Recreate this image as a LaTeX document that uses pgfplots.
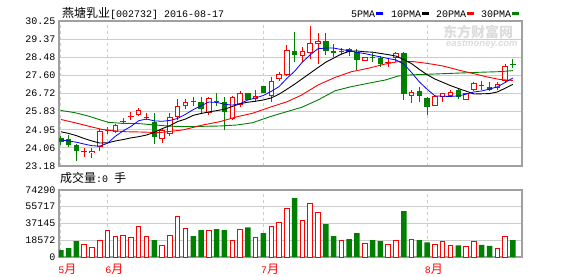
\documentclass[border=0pt]{standalone}
\usepackage{pgfplots}
\pgfplotsset{compat=1.18}
\usepackage{pgfplotstable}
\usepackage{fontspec}
\setmainfont{Liberation Sans}
\setmonofont{Liberation Mono}
\newfontfamily\cjk{Noto Sans CJK SC}
\newcommand\mono{\ttfamily\fontsize{10}{12}\selectfont}
\newcommand\zh{\cjk\fontsize{12}{14}\selectfont}
\definecolor{kred}{RGB}{255,0,0}
\definecolor{kgreen}{RGB}{0,128,0}
\definecolor{kblue}{RGB}{0,0,255}
\definecolor{bordc}{RGB}{160,160,160}
\definecolor{gridc}{RGB}{204,204,204}
\definecolor{wm}{RGB}{220,220,220}

% i lo hi l h  (up candles, hollow red)
\pgfplotstableread{
i lo hi l h
4 23.79 23.93 23.58 24.04
5 24.09 24.89 23.93 24.98
7 24.82 25.18 24.80 25.22
10 25.67 25.90 25.60 26.00
13 24.51 24.92 24.32 25.02
14 24.74 25.58 24.66 25.78
15 25.58 26.10 25.42 26.43
16 26.10 26.30 25.94 26.43
19 25.78 26.48 25.67 26.56
22 25.47 26.53 25.42 26.59
23 26.15 26.72 26.04 26.84
25 26.46 26.59 26.32 26.89
27 26.59 27.32 26.32 27.53
28 27.44 27.67 27.34 27.78
29 27.60 28.84 27.57 29.07
31 28.56 28.80 28.27 29.00
32 28.70 29.16 28.38 30.01
33 29.11 29.29 28.14 29.65
39 28.30 28.48 28.28 28.50
43 28.45 28.69 28.25 28.75
45 26.59 26.80 26.24 26.89
48 26.12 26.59 26.10 26.62
49 26.53 26.72 26.32 26.75
50 26.59 26.77 26.56 26.89
52 26.40 26.72 26.40 26.75
53 26.89 27.24 26.85 27.30
56 26.97 27.18 26.89 27.28
57 27.34 28.06 27.24 28.15
}\hollow
% red doji
\pgfplotstableread{
i lo hi l h
3 23.86 23.91 23.63 24.04
6 24.90 24.95 24.74 25.10
8 25.31 25.36 25.21 25.51
9 25.57 25.62 25.42 25.80
11 25.50 25.55 25.40 25.78
36 28.73 28.78 28.59 28.92
42 28.20 28.25 28.02 28.38
}\reddoji
% down candles, filled green
\pgfplotstableread{
i lo hi l h
0 24.36 24.53 24.20 24.64
1 24.22 24.48 24.09 24.71
2 23.93 24.22 23.44 24.24
12 24.61 25.31 24.24 25.78
17 26.32 26.37 26.10 26.53
18 25.94 26.30 25.78 26.53
20 26.29 26.34 26.10 26.72
21 25.83 26.30 24.94 26.56
24 26.40 26.72 26.38 26.74
26 26.75 27.08 26.73 27.10
30 28.59 28.79 28.27 29.71
34 28.80 29.29 28.59 29.65
35 28.70 28.80 28.48 29.13
37 28.75 28.88 28.55 28.92
38 28.35 28.72 27.86 28.90
40 28.46 28.51 28.27 28.68
41 28.15 28.46 28.00 28.55
44 26.69 28.68 26.42 28.76
46 26.59 26.85 26.32 27.05
47 26.07 26.48 25.67 26.53
51 26.56 26.89 26.46 26.92
54 27.07 27.12 26.89 27.32
55 26.89 27.05 26.82 27.26
58 28.12 28.17 27.94 28.38
}\down

\pgfplotsset{
  kaxis/.style={
    scale only axis, width=463pt,
    xmin=-0.23, xmax=59.17,
    axis line style={draw=bordc, line width=1.3pt},
    major tick length=0pt,
    xtick={0,6,26,47},
    xmajorgrids, ymajorgrids,
    major x grid style={draw=gridc, line width=0.9pt, dash pattern=on 3pt off 3pt},
    major y grid style={draw=gridc, line width=0.9pt},
    yticklabel style={font=\mono, text=black},
    scaled y ticks=false,
  },
  errplot/.style 2 args={draw=none, mark=none,
    error bars/.cd, y dir=plus, y explicit, error mark=none,
    error bar style={draw=#1, line width=#2, line cap=butt}},
}

\begin{document}
\begin{tikzpicture}
\useasboundingbox (0pt,0pt) rectangle (578pt,276pt);

% watermark
\node[anchor=base west, inner sep=0pt, text=wm] at (443pt,238pt) {\cjk\bfseries\fontsize{14}{14}\selectfont 东方财富网};
\node[anchor=base west, inner sep=0pt, text=wm] at (446pt,229pt) {\bfseries\itshape\fontsize{9.5}{10}\selectfont eastmoney.com};

% title and legend
\node[anchor=base west, inner sep=0pt] at (62pt,258pt) {\zh 燕塘乳业\mono[002732] 2016-08-17};
\node[anchor=base west, inner sep=0pt] at (351pt,258.5pt) {\mono 5PMA\hspace{1pt}\textcolor{kblue}{\rule[2pt]{7pt}{3pt}}};
\node[anchor=base west, inner sep=0pt] at (391pt,258.5pt) {\mono 10PMA\hspace{1pt}\textcolor{black}{\rule[2pt]{7pt}{3pt}}};
\node[anchor=base west, inner sep=0pt] at (436pt,258.5pt) {\mono 20PMA\hspace{1pt}\textcolor{kred}{\rule[2pt]{7pt}{3pt}}};
\node[anchor=base west, inner sep=0pt] at (481pt,258.5pt) {\mono 30PMA\hspace{1pt}\textcolor{kgreen}{\rule[2pt]{7pt}{3pt}}};
\node[anchor=base west, inner sep=0pt] at (60pt,94pt) {\zh 成交量\mono:0 \zh 手};

% ---------- price panel ----------
\begin{axis}[kaxis, at={(59pt,110pt)}, anchor=south west, height=145pt,
  ymin=23.18, ymax=30.25,
  ytick={23.18,24.06375,24.9475,25.83125,26.715,27.59875,28.4825,29.36625,30.25},
  yticklabels={23.18,24.06,24.95,25.83,26.72,27.60,28.48,29.37,30.25},
  xticklabels={}]
% wicks
\addplot[errplot={kred}{1pt}] table[x=i, y=l, y error plus expr=\thisrow{h}-\thisrow{l}] {\hollow};
\addplot[errplot={kred}{1pt}] table[x=i, y=l, y error plus expr=\thisrow{h}-\thisrow{l}] {\reddoji};
\addplot[errplot={kgreen}{1pt}] table[x=i, y=l, y error plus expr=\thisrow{h}-\thisrow{l}] {\down};
% bodies
\addplot[errplot={kred}{5.5pt}] table[x=i, y=lo, y error plus expr=\thisrow{hi}-\thisrow{lo}] {\hollow};
\addplot[draw=none, mark=none, error bars/.cd, y dir=plus, y explicit, error mark=none,
  error bar style={draw=white, line width=3.5pt, line cap=butt, shorten <=1pt, shorten >=1pt}]
  table[x=i, y=lo, y error plus expr=\thisrow{hi}-\thisrow{lo}] {\hollow};
\addplot[errplot={kred}{5.5pt}] table[x=i, y=lo, y error plus expr=\thisrow{hi}-\thisrow{lo}] {\reddoji};
\addplot[errplot={kgreen}{5.5pt}] table[x=i, y=lo, y error plus expr=\thisrow{hi}-\thisrow{lo}] {\down};
% 30PMA
\addplot[kgreen, line width=0.9pt, mark=none] coordinates {
(0,25.89) (1.8,25.78) (3.5,25.62) (4.8,25.46) (6.1,25.31) (7.8,25.26) (9.9,25.25)
(12.1,25.18) (14.0,25.12) (16.1,25.10) (20.4,25.13) (22.6,25.18) (24.6,25.29)
(26.8,25.58) (29.0,25.83) (30.9,26.04) (33.0,26.40) (35.2,26.85) (37.3,27.05)
(39.4,27.21) (41.6,27.37) (43.3,27.57) (44.8,27.62) (46.9,27.65) (50.3,27.70)
(53.7,27.75) (56.3,27.78) (58.0,27.83)};
% 20PMA
\addplot[kred, line width=0.9pt, mark=none] coordinates {
(0,25.45) (1.8,25.29) (3.5,25.13) (5.2,24.97) (6.7,24.90) (8.4,24.85) (9.9,24.84)
(12.7,24.81) (15.7,24.94) (18.2,25.18) (20.4,25.34) (22.6,25.58) (24.6,25.75)
(26.8,26.04) (29.0,26.31) (30.9,26.64) (33.0,27.13) (35.2,27.50) (37.3,27.78)
(39.4,27.94) (41.6,28.15) (43.3,28.27) (45.2,28.27) (46.9,28.19) (49.0,28.06)
(51.2,27.84) (52.9,27.69) (54.6,27.53) (56.3,27.40) (58.0,27.35)};
% 10PMA
\addplot[black, line width=0.9pt, mark=none] coordinates {
(0,24.85) (1,24.77) (2,24.66) (3,24.52) (4,24.40) (5,24.30) (6,24.31) (7,24.40)
(8,24.47) (9,24.55) (10,24.61) (11,24.69) (12,24.82) (13,25.00) (14,25.15)
(15,25.35) (16,25.47) (17,25.65) (18,25.74) (19,25.82) (20,25.88) (21,25.95)
(22,26.08) (23,26.22) (24,26.29) (25,26.34) (26,26.40) (27,26.50) (28,26.68)
(29,26.92) (30,27.17) (31,27.44) (32,27.71) (33,27.98) (34,28.24) (35,28.44)
(36,28.64) (37,28.77) (38,28.79) (39,28.75) (40,28.73) (41,28.67) (42,28.61)
(43,28.54) (44,28.37) (45,28.17) (46,27.89) (47,27.63) (48,27.42) (49,27.26)
(50,27.10) (51,26.96) (52,26.83) (53,26.69) (54,26.70) (55,26.71) (56,26.79)
(57,26.97) (58,27.16)};
% 5PMA
\addplot[kblue, line width=0.8pt, mark=none] coordinates {
(0,24.45) (1,24.40) (2,24.34) (3,24.25) (4,24.17) (5,24.15) (6,24.29) (7,24.63)
(8,24.89) (9,25.11) (10,25.39) (11,25.47) (12,25.38) (13,25.36) (14,25.40)
(15,25.50) (16,25.70) (17,25.93) (18,26.12) (19,26.30) (20,26.28) (21,26.19)
(22,26.15) (23,26.22) (24,26.40) (25,26.50) (26,26.62) (27,26.82) (28,27.05)
(29,27.45) (30,27.80) (31,28.25) (32,28.60) (33,28.90) (34,28.93) (35,28.93)
(36,28.86) (37,28.80) (38,28.72) (39,28.66) (40,28.58) (41,28.50) (42,28.42)
(43,28.35) (44,28.15) (45,27.74) (46,27.28) (47,26.92) (48,26.60) (49,26.58)
(50,26.57) (51,26.60) (52,26.68) (53,26.79) (54,26.84) (55,26.93) (56,27.04)
(57,27.25) (58,27.47)};
\end{axis}

% ---------- volume panel ----------
\begin{axis}[kaxis, at={(59pt,19pt)}, anchor=south west, height=67pt,
  ymin=0, ymax=74290,
  ytick={0,18572.5,37145,55717.5,74290},
  yticklabels={0,18572,37145,55717,74290},
  xticklabels={{\mono 5\zh 月},{\mono 6\zh 月},{\mono 7\zh 月},{\mono 8\zh 月}},
  xticklabel style={anchor=base west, inner sep=0pt, xshift=-2.5pt, yshift=-16pt, text=kred}]
\addplot[ybar, bar width=4.5pt, bar shift=0pt, draw=kred, line width=1pt, fill=white] coordinates {
(3,14040) (4,10720) (5,18850) (6,29940) (7,22920) (8,24030) (9,21810) (10,34000)
(11,22920) (13,12940) (14,24030) (15,45100) (16,31790) (19,29940) (22,18480)
(23,30680) (25,21810) (27,34000) (28,38430) (29,53980) (31,40660) (32,59510)
(33,49520) (36,18480) (39,15150) (42,14040) (43,18480) (45,19590) (48,14040)
(49,17370) (50,12940) (52,11830) (53,17370) (56,9610) (57,22920)};
\addplot[ybar, bar width=5.5pt, bar shift=0pt, draw=none, fill=kgreen] coordinates {
(0,7760) (1,9980) (2,17740) (12,18850) (17,23280) (18,29940) (20,31050) (21,29940)
(24,32900) (26,26610) (30,65420) (34,36590) (35,23280) (37,19960) (38,26610)
(40,18850) (41,17740) (44,51000) (46,18850) (47,16260) (51,12940) (54,13310)
(55,12200) (58,18850)};
\end{axis}
\end{tikzpicture}
\end{document}
